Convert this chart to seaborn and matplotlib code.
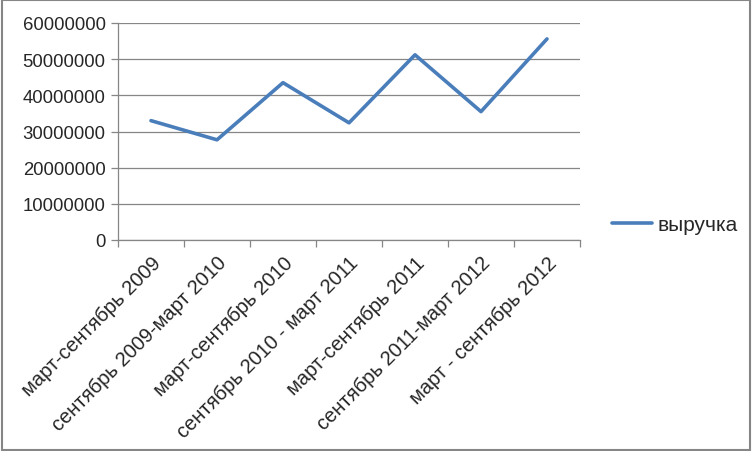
import matplotlib
matplotlib.use("Agg")
import matplotlib.pyplot as plt
import seaborn as sns
import pandas as pd
import numpy as np
from matplotlib.patches import Rectangle
from matplotlib.ticker import FixedLocator

periods = [
    "март-сентябрь 2009",
    "сентябрь 2009-март 2010",
    "март-сентябрь 2010",
    "сентябрь 2010 - март 2011",
    "март-сентябрь 2011",
    "сентябрь 2011-март 2012",
    "март - сентябрь 2012",
]
revenue = [33000000, 27700000, 43500000, 32400000, 51200000, 35500000, 55600000]
series_name = "выручка"
y_ticks = [0, 10000000, 20000000, 30000000, 40000000, 50000000, 60000000]

sns.set_style("white")
plt.rcParams["font.family"] = ["Liberation Sans", "DejaVu Sans"]

df = pd.DataFrame({"period": periods, "value": revenue})

fig = plt.figure(figsize=(7.52, 4.52), dpi=100)
ax = fig.add_axes([118 / 752, 1 - 241 / 452, (580 - 118) / 752, (241 - 24) / 452])

sns.lineplot(data=df, x="period", y="value", ax=ax, color="#4A7EBB",
             linewidth=2.6, label=series_name, sort=False)

ax.set_xlim(-0.5, len(periods) - 0.5)
ax.set_ylim(0, 60000000)
ax.set_yticks(y_ticks)
ax.set_yticklabels([str(v) for v in y_ticks], fontsize=13.3)
ax.yaxis.grid(True, color="#868686", linewidth=0.9)
ax.xaxis.grid(False)

ax.set_xticks(range(len(periods)))
ax.set_xticklabels(periods, rotation=45, ha="right", rotation_mode="anchor", fontsize=14.5)
ax.xaxis.set_minor_locator(FixedLocator(np.arange(-0.5, len(periods), 1.0)))
ax.tick_params(axis="x", which="major", length=0, pad=9)
ax.tick_params(axis="x", which="minor", length=5, color="#868686", width=0.9, direction="out", bottom=True)
ax.tick_params(axis="y", length=5, color="#868686", width=0.9, direction="out", left=True, pad=4)

for side in ["top", "right"]:
    ax.spines[side].set_visible(False)
for side in ["left", "bottom"]:
    ax.spines[side].set_color("#868686")
    ax.spines[side].set_linewidth(0.9)

ax.set_xlabel("")
ax.set_ylabel("")

ax.get_legend().remove()
handles, labels = ax.get_legend_handles_labels()
fig.legend(handles, labels, loc="center left", bbox_to_anchor=(612 / 752, 1 - 226 / 452),
           frameon=False, fontsize=15, handlelength=1.9, handletextpad=0.3,
           borderpad=0, borderaxespad=0)

fig.patches.append(Rectangle((0.002, 0.003), 0.996, 0.994, transform=fig.transFigure,
                             fill=False, edgecolor="#868686", linewidth=1.5))

fig.savefig("out.png", dpi=100)
